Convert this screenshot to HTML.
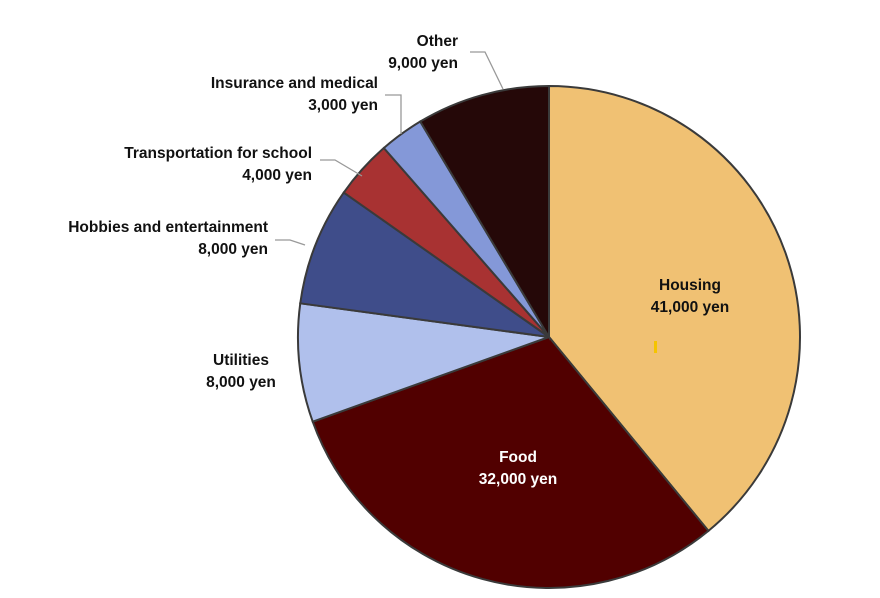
<!DOCTYPE html>
<html><head><meta charset="utf-8"><style>
body{margin:0;background:#fff;}
svg text{font-family:"Liberation Sans",sans-serif;font-weight:bold;font-size:15.5px;fill:#111;}
</style></head><body>
<svg id="chart" width="880" height="593" viewBox="0 0 880 593"></svg>
<script>
const categories=["Housing","Food","Utilities","Hobbies and entertainment","Transportation for school","Insurance and medical","Other"];
const values=[41000,32000,8000,8000,4000,3000,9000];
const valueLabels=["41,000 yen","32,000 yen","8,000 yen","8,000 yen","4,000 yen","3,000 yen","9,000 yen"];
const colors=["#f0c173","#510000","#b0c0ec","#3f4d8a","#a83232","#8498d8","#250808"];
const NS="http://www.w3.org/2000/svg";
const svg=document.getElementById("chart");
const cx=549,cy=337,r=251;
const total=values.reduce((a,b)=>a+b,0);
function pt(a,rr){return [cx+rr*Math.sin(a),cy-rr*Math.cos(a)];}
function mk(tag,attrs){const e=document.createElementNS(NS,tag);for(const k in attrs)e.setAttribute(k,attrs[k]);svg.appendChild(e);return e;}
let acc=0;
values.forEach((v,i)=>{
 const a0=acc/total*2*Math.PI;acc+=v;const a1=acc/total*2*Math.PI;
 const p0=pt(a0,r),p1=pt(a1,r);const large=(a1-a0)>Math.PI?1:0;
 const p=mk("path",{d:`M${cx},${cy}L${p0[0]},${p0[1]}A${r},${r} 0 ${large} 1 ${p1[0]},${p1[1]}Z`,fill:colors[i],stroke:"#3a3a3a","stroke-width":"2"});
 
 
});
const layout=[
 [690,290,"middle","#111",null],
 [518,462,"middle","#fff",null],
 [241,365,"middle","#111",null],
 [268,232,"end","#111",[[275,240],[290,240],[305,245]]],
 [312,158,"end","#111",[[320,160],[335,160],[362,176]]],
 [378,88,"end","#111",[[385,95],[401,95],[401,134]]],
 [458,46,"end","#111",[[470,52],[485,52],[503,89]]]
];
layout.forEach((L,i)=>{
 if(L[4]){const l=mk("polyline",{points:L[4].map(p=>p.join(",")).join(" "),fill:"none",stroke:"#999","stroke-width":"1.3"});
  
  }
 const t1=mk("text",{x:L[0],y:L[1],"text-anchor":L[2]});t1.style.fill=L[3];t1.textContent=categories[i];
 
 
 const t2=mk("text",{x:L[0],y:L[1]+22,"text-anchor":L[2]});t2.style.fill=L[3];t2.textContent=valueLabels[i];
 
 
});
const m=mk("rect",{x:654,y:341,width:3,height:12,fill:"#f5c400"});


</script>
</body></html>
